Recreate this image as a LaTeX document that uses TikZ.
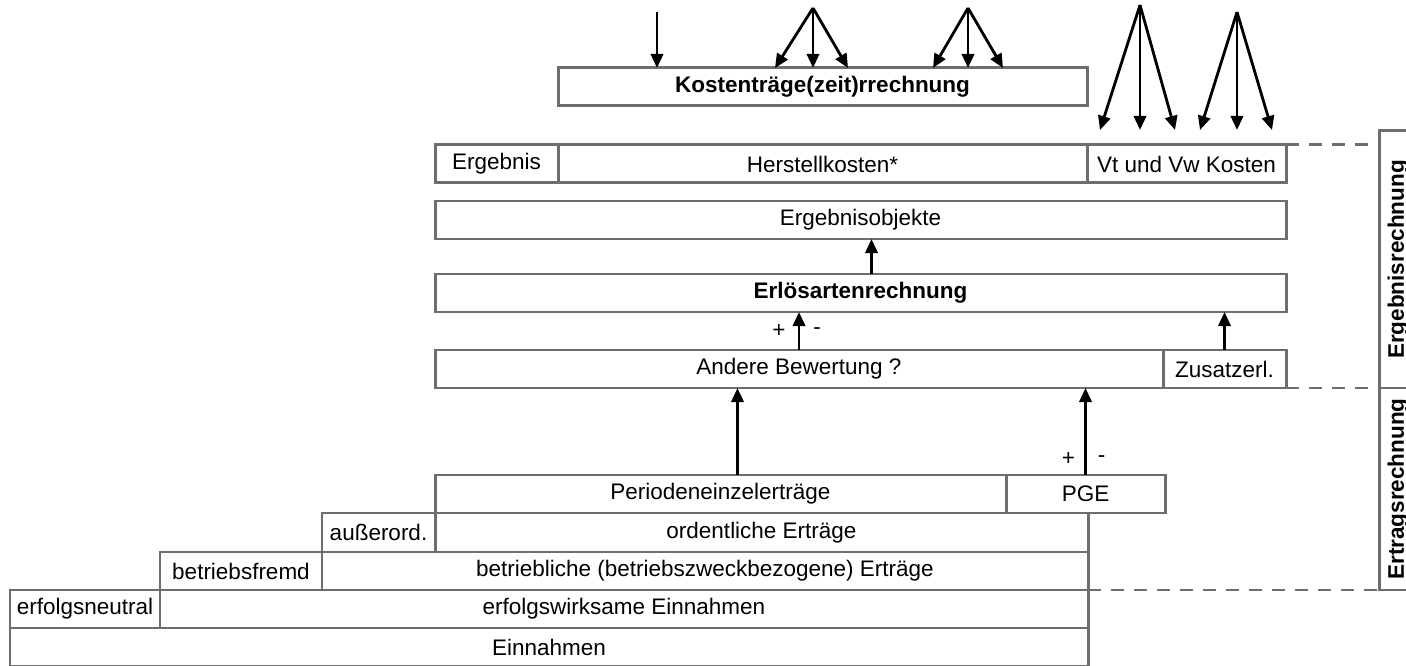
\documentclass[tikz,border=0pt]{standalone}
\usepackage{fontspec}
\setmainfont{Liberation Sans}
\usetikzlibrary{arrows.meta,positioning}
\definecolor{boxgray}{HTML}{6E6E6E}
\begin{document}
\begin{tikzpicture}
[box/.style={draw=boxgray,line width=1.7pt,anchor=north west,minimum height=0.76cm,
  inner sep=0pt,outer sep=0pt,font=\fontsize{12.8}{15}\selectfont},
 boldbox/.style={box,font=\fontsize{12.8}{15}\selectfont\bfseries},
 sidebox/.style={box,anchor=center,rotate=90,font=\fontsize{12.8}{15}\selectfont\bfseries},
 arr/.style={line width=1.6pt,-{Triangle[length=8pt,width=7pt]}},
 dashline/.style={draw=boxgray,line width=1.7pt,dash pattern=on 0.26cm off 0.2cm},
 sign/.style={font=\fontsize{12.8}{15}\selectfont,inner sep=0pt}]
\useasboundingbox (0,0) rectangle (28.12,-13.32);
\node[boldbox,minimum width=10.58cm] (kt) at (11.16,-1.36) {Kostenträge(zeit)rrechnung};
\node[box,minimum width=2.46cm] (erg) at (8.7,-2.9) {Ergebnis};
\node[box,minimum width=10.58cm,right=0pt of erg] (hk) {Herstellkosten*};
\node[box,minimum width=3.98cm,right=0pt of hk] (vtvw) {Vt und Vw Kosten};
\node[box,minimum width=17.02cm] (eo) at (8.7,-4.02) {Ergebnisobjekte};
\node[boldbox,minimum width=17.02cm] (ear) at (8.7,-5.48) {Erlösartenrechnung};
\node[box,minimum width=14.56cm] (ab) at (8.7,-7.0) {Andere Bewertung ?};
\node[box,minimum width=2.46cm,right=0pt of ab] (ze) {Zusatzerl.};
\node[box,minimum width=11.42cm] (pe) at (8.7,-9.5) {Periodeneinzelerträge};
\node[box,minimum width=3.18cm,right=0pt of pe] (pge) {PGE};
\node[box,minimum width=2.26cm,minimum height=0.78cm] (ao) at (6.44,-10.26) {außerord.};
\node[box,minimum width=13.06cm,minimum height=0.78cm,right=0pt of ao] (oe) {ordentliche Erträge};
\node[box,minimum width=3.24cm] (bf) at (3.2,-11.04) {betriebsfremd};
\node[box,minimum width=15.32cm,right=0pt of bf] (be) {betriebliche (betriebszweckbezogene) Erträge};
\node[box,minimum width=3.0cm] (en) at (0.2,-11.8) {erfolgsneutral};
\node[box,minimum width=18.56cm,right=0pt of en] (ew) {erfolgswirksame Einnahmen};
\node[box,minimum width=21.56cm] (ein) at (0.2,-12.56) {Einnahmen};
\node[sidebox,minimum width=5.14cm] (ergr) at (27.96,-5.19) {Ergebnisrechnung};
\node[sidebox,minimum width=4.04cm] (ertr) at (27.96,-9.78) {Ertragsrechnung};
\draw[dashline] (vtvw.north east) -- (vtvw.north east -| ergr.north);
\draw[dashline] (ze.south east) -- (ze.south east -| ertr.north);
\draw[dashline] (ew.north east) -- (ew.north east -| ertr.north);
\coordinate (t1) at (13.14,-0.24);
\coordinate (f1) at (16.26,-0.16);
\coordinate (f2) at (19.36,-0.16);
\coordinate (f3) at (22.8,-0.1);
\coordinate (f4) at (24.74,-0.24);
\coordinate (k1) at (f1 |- kt.north);
\coordinate (k2) at (f2 |- kt.north);
\coordinate (k3) at (f3 |- vtvw.north);
\coordinate (k4) at (f4 |- vtvw.north);
\draw[arr] (t1) -- (t1 |- kt.north);
\foreach \d in {-0.76,0,0.7} \draw[arr] (f1) -- ([xshift=\d cm]k1);
\foreach \d in {-0.7,0,0.7} \draw[arr] (f2) -- ([xshift=\d cm]k2);
\foreach \d in {-0.8,0,0.7} \draw[arr] (f3) -- ([shift={(\d,0.3)}]k3);
\foreach \d in {-0.74,0,0.7} \draw[arr] (f4) -- ([shift={(\d,0.3)}]k4);
\draw[arr] ([xshift=0.22cm]ear.north) -- ([xshift=0.22cm]eo.south);
\draw[arr] (ab.north) -- (ab.north |- ear.south)
  node[sign,pos=0.5,left=0.24cm] {+} node[sign,pos=0.5,right=0.26cm] {-};
\draw[arr] (ze.north) -- (ze.north |- ear.south);
\draw[arr] ([xshift=0.34cm]pe.north) -- ([xshift=0.34cm]pe.north |- ab.south);
\draw[arr] (pge.north) -- (pge.north |- ab.south)
  node[sign,pos=0.18,left=0.18cm] {+} node[sign,pos=0.18,right=0.22cm] {-};
\end{tikzpicture}
\end{document}
